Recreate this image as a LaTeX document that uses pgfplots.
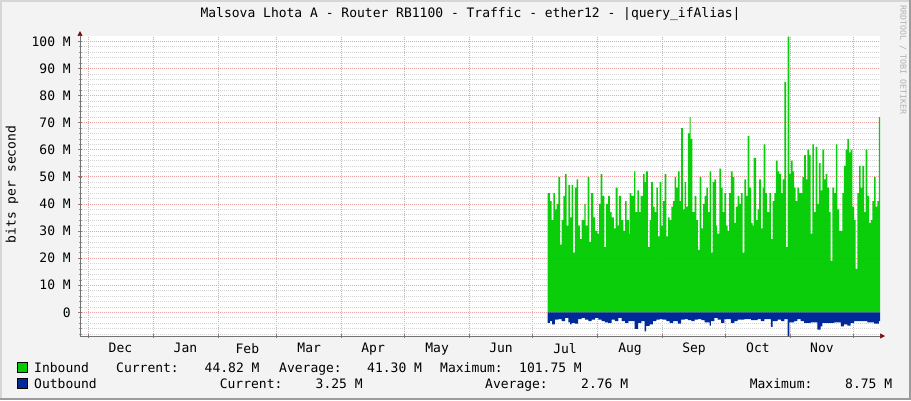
\documentclass[border=0pt]{standalone}
\usepackage{fontspec}
\setmainfont{DejaVu Sans Mono}
\usepackage{pgfplots}
\usepackage{pgfplotstable}
\pgfplotsset{compat=1.18}
\usetikzlibrary{arrows.meta}

\definecolor{canvas}{HTML}{F3F3F3}
\definecolor{inb}{HTML}{00CC00}
\definecolor{outb}{HTML}{002A97}
\definecolor{mgrid}{HTML}{EDA3A3}
\definecolor{sgrid}{HTML}{D4D4D4}
\definecolor{framedark}{HTML}{9C9C9C}
\definecolor{framelight}{HTML}{D6D6D6}
\definecolor{arrowred}{HTML}{7A1010}

% x = days since 1 Dec, y = Mbit/s
\pgfplotstableread{
x y
219.2 0
219.2 44
220.3 41
221.1 34
221.9 44
222.7 38
223.5 40
224.3 50
225.1 25
225.9 34
226.7 43
227.5 51
228.3 32
229.1 47
229.9 35
230.6 47
231.4 22
232.2 46
233.0 49
233.8 32
234.6 27
235.4 34
236.7 40
237.3 32
238.3 50
239.1 26
239.9 44
241.0 35
241.8 30
242.9 29
243.8 40
244.5 51
245.3 43
246.2 24
247.0 40
248.1 43
248.9 37
249.7 35
250.8 31
251.6 46
252.6 32
253.2 43
254.2 34
255.3 30
256.1 41
256.9 34
258.0 29
258.3 44
259.1 43
260.4 52
261.0 37
262.0 45
262.7 37
263.5 43
264.7 51
265.4 48
266.2 52
267.0 24
267.8 34
268.6 48
269.4 39
270.2 37
271.0 46
271.8 28
272.6 48
273.4 32
274.2 41
275.0 51
275.8 28
276.6 35
277.4 34
278.2 39
279.0 41
279.8 50
280.5 46
281.3 52
282.1 41
282.9 68
283.7 38
284.5 48
285.3 39
286.1 66
286.9 72
287.4 64
288.2 37
289.3 43
290.1 34
290.9 23
291.7 50
292.5 31
293.3 40
294.1 43
294.9 46
295.6 37
296.4 52
297.2 22
297.9 48
298.7 49
299.5 32
300.0 29
301.1 53
301.9 46
302.7 37
303.5 44
304.3 32
305.0 30
305.8 44
306.6 52
307.4 50
308.2 33
309.0 39
309.8 43
310.6 40
311.4 44
312.2 22
313.0 49
313.8 43
314.6 65
315.4 46
316.2 33
317.0 32
317.4 57
318.6 34
319.3 38
320.1 49
320.9 31
321.7 46
322.2 62
323.0 44
323.8 37
324.9 44
325.7 27
326.5 41
327.3 44
328.1 56
328.9 52
329.7 51
330.5 44
331.3 49
332.1 85
332.9 24
333.7 101.75
334.5 51
335.2 56
336.0 52
336.8 46
337.5 41
338.3 46
339.1 44
339.9 44
340.7 50
341.5 58
342.3 49
343.1 60
343.9 58
344.6 29
345.4 62
346.2 37
347.0 61
347.8 40
348.6 55
349.4 45
350.2 60
351.0 49
351.8 51
352.6 46
353.4 37
354.2 19
355.0 46
355.8 44
356.6 62
357.4 38
358.2 30
359.0 30
359.7 44
360.5 54
361.3 60
362.1 64
362.9 59
363.7 60
364.5 39
365.3 34
366.1 16
366.9 44
367.7 54
368.5 46
369.3 54
370.1 37
370.9 60
371.7 43
372.5 33
373.3 34
374.1 41
374.9 50
375.6 39
376.4 41
377.2 72
377.7 72
377.7 0
}\inbound

\pgfplotstableread{
x y
219.2 0
219.2 -3.9
220.3 -3.3
221.4 -4.5
222.7 -2.7
224.3 -2.5
225.9 -3.3
227.5 -2.1
229.1 -3.7
229.9 -4.5
230.6 -3.9
232.2 -4.2
233.8 -2.5
235.4 -2.1
237.0 -2.7
238.6 -3.3
240.2 -2.7
241.8 -2.1
243.4 -2.7
245.0 -3.3
246.5 -3.7
248.1 -3.9
249.7 -2.7
251.3 -3.3
252.9 -2.1
254.5 -3.3
256.1 -3.9
257.7 -3.3
259.1 -3.3
260.7 -6.1
262.3 -3.9
263.9 -3.3
265.4 -7.0
266.2 -5.0
267.8 -4.5
269.4 -3.3
271.0 -2.7
272.6 -2.5
274.2 -2.7
275.8 -3.3
277.4 -3.9
279.0 -3.3
281.3 -4.2
282.9 -2.7
284.5 -2.5
286.1 -2.9
287.7 -3.3
289.3 -2.7
290.9 -2.5
292.5 -2.9
294.1 -3.7
296.4 -4.9
297.1 -3.3
298.7 -2.1
300.3 -2.7
301.9 -3.9
303.5 -2.5
306.6 -3.9
308.2 -3.3
309.8 -2.7
313.0 -2.5
316.2 -2.9
319.3 -2.5
320.9 -3.3
322.5 -2.5
325.7 -5.4
326.5 -3.3
328.9 -2.7
330.5 -3.3
332.1 -2.5
333.7 -8.75
334.5 -3.7
336.8 -3.3
338.3 -2.5
339.9 -3.3
341.5 -3.9
344.6 -3.7
347.8 -6.4
349.4 -5.2
350.2 -3.9
352.6 -3.9
355.8 -3.7
359.0 -5.2
360.5 -4.5
362.1 -4.9
363.7 -3.9
365.3 -3.3
368.5 -3.3
371.7 -3.7
374.9 -4.2
377.2 -3.3
377.7 -3.3
377.7 0
}\outbound

\begin{document}
\begin{tikzpicture}[x=1pt,y=1pt,font=\fontsize{13}{15}\selectfont]
\path[use as bounding box] (0,0) rectangle (911,400);
\fill[canvas] (0,0) rectangle (911,400);
\draw[framelight, line width=2pt] (1,0) -- (1,399) -- (911,399);
\draw[framedark, line width=2pt] (0,1) -- (910,1) -- (910,400);

\begin{axis}[
    at={(80pt,64pt)}, anchor=south west,
    scale only axis, width=800pt, height=300pt,
    xmin=-3.8, xmax=377.7, ymin=-8.75, ymax=101.95,
    axis lines=left,
    axis background/.style={fill=white},
    x axis line style={draw=black!55, line width=0.7pt, shorten >=-5pt,
        -{Triangle[length=5pt,width=5pt,color=arrowred]}},
    y axis line style={draw=black!55, line width=0.7pt, shorten >=-5pt,
        -{Triangle[length=5pt,width=5pt,color=arrowred]}},
    xtick={0,31,62,90,121,151,182,212,243,274,304,335,365},
    xticklabels={Dec,Jan,Feb,Mar,Apr,May,Jun,Jul,Aug,Sep,Oct,Nov},
    x tick label as interval,
    ytick={0,10,...,100},
    yticklabels={0,10 M,20 M,30 M,40 M,50 M,60 M,70 M,80 M,90 M,100 M},
    minor ytick={-8,-6,...,98},
    xmajorgrids, ymajorgrids, yminorgrids,
    major grid style={mgrid, dash pattern=on 1pt off 1pt, line width=0.6pt},
    minor grid style={sgrid, dash pattern=on 1pt off 1pt, line width=0.6pt},
    major tick length=4pt, minor tick length=3pt, tick align=center,
    major tick style={mgrid!70!black, line width=0.6pt},
    minor tick style={black!40, line width=0.5pt},
    yticklabel style={inner sep=0pt, xshift=-7pt},
    xticklabel style={inner sep=0pt, yshift=-5pt},
    tick label style={font=\fontsize{13}{15}\selectfont},
]
\addplot[const plot, fill=inb, fill opacity=0.96, draw=none] table[x=x, y=y] {\inbound} \closedcycle;
\addplot[const plot, fill=outb, draw=none] table[x=x, y=y] {\outbound} \closedcycle;
\end{axis}

\node at (470.6,386) {Malsova Lhota A - Router RB1100 - Traffic - ether12 - |query\_ifAlias|};
\node[rotate=90] at (12,215.5) {bits per second};
\node[rotate=-90, text=black!30, font=\fontsize{8.3}{9}\selectfont] at (903,340) {RRDTOOL / TOBI OETIKER};

\draw[fill=inb, draw=black, line width=0.6pt] (17.5,27.5) rectangle (27.5,37.5);
\draw[fill=outb, draw=black, line width=0.6pt] (17.5,11.5) rectangle (27.5,21.5);
\begin{scope}[every node/.style={anchor=base west, inner sep=0pt}]
\node at (34,27.3) {Inbound};
\node at (116,27.3) {Current:};
\node at (204.5,27.3) {44.82 M};
\node at (279,27.3) {Average:};
\node at (367,27.3) {41.30 M};
\node at (440,27.3) {Maximum:};
\node at (519,27.3) {101.75 M};
\node at (34,11.3) {Outbound};
\node at (219.6,11.3) {Current:};
\node at (315.5,11.3) {3.25 M};
\node at (485,11.3) {Average:};
\node at (581,11.3) {2.76 M};
\node at (749.6,11.3) {Maximum:};
\node at (845,11.3) {8.75 M};
\end{scope}
\end{tikzpicture}
\end{document}
